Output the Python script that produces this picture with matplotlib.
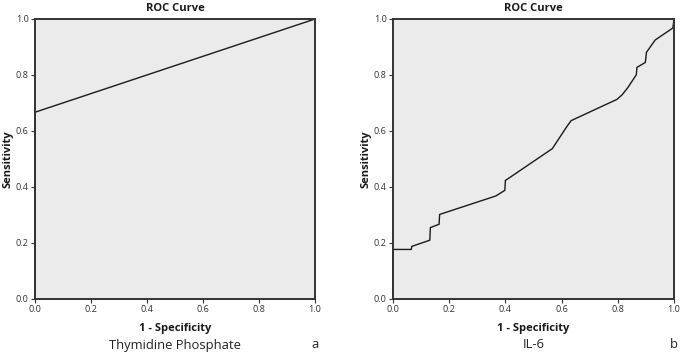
import matplotlib.pyplot as plt

plt.rcParams['font.family'] = ['Open Sans', 'DejaVu Sans']

# ROC curve points (1 - specificity, sensitivity)
tp_fpr = [0.0, 0.0, 1.0, 1.0]
tp_tpr = [0.0, 0.667, 1.0, 1.0]

il6_fpr = [0.0, 0.0, 0.065, 0.067, 0.131, 0.133, 0.164, 0.166, 0.366, 0.398, 0.4,
           0.404, 0.567, 0.618, 0.634, 0.797, 0.815, 0.835, 0.866, 0.868, 0.898,
           0.902, 0.933, 0.996, 1.0]
il6_tpr = [0.0, 0.177, 0.177, 0.188, 0.21, 0.255, 0.267, 0.302, 0.368, 0.388, 0.424,
           0.426, 0.537, 0.615, 0.637, 0.713, 0.729, 0.754, 0.801, 0.827, 0.845,
           0.881, 0.925, 0.968, 1.0]

ticks = [0.0, 0.2, 0.4, 0.6, 0.8, 1.0]
tick_labels = ['0.0', '0.2', '0.4', '0.6', '0.8', '1.0']
captions = ['Thymidine Phosphate', 'IL-6']
letters = ['a', 'b']

fig = plt.figure(figsize=(6.82, 3.54), dpi=100)
ax1 = fig.add_axes([35/682, 55/354, 280/682, 280/354])
ax2 = fig.add_axes([393/682, 55/354, 281/682, 280/354])

for ax, x, y, cap, let in [(ax1, tp_fpr, tp_tpr, captions[0], letters[0]),
                           (ax2, il6_fpr, il6_tpr, captions[1], letters[1])]:
    ax.set_facecolor('#ebebeb')
    ax.plot(x, y, color='#1a1a1a', lw=1.0, clip_on=False)
    ax.set_xlim(0, 1)
    ax.set_ylim(0, 1)
    ax.set_xticks(ticks)
    ax.set_xticklabels(tick_labels)
    ax.set_yticks(ticks)
    ax.set_yticklabels(tick_labels)
    ax.tick_params(labelsize=6.6, length=3, width=0.8, colors='#333333', pad=1.5)
    for s in ax.spines.values():
        s.set_color('#333333')
        s.set_linewidth(1.4)
    ax.set_title('ROC Curve', fontsize=8, fontweight='bold', color='#1a1a1a', pad=6)
    ax.set_xlabel('1 - Specificity', fontsize=8, fontweight='bold', color='#1a1a1a', labelpad=6)
    ax.set_ylabel('Sensitivity', fontsize=8, fontweight='bold', color='#1a1a1a', labelpad=2)
    pos = ax.get_position()
    fig.text((pos.x0 + pos.x1) / 2, 9/354, cap, fontsize=9.4, color='#222222',
             ha='center', va='center')
    fig.text(pos.x1, 9/354, let, fontsize=9.4, color='#222222', ha='center', va='center')

fig.savefig('out.png', dpi=100, facecolor='white')
